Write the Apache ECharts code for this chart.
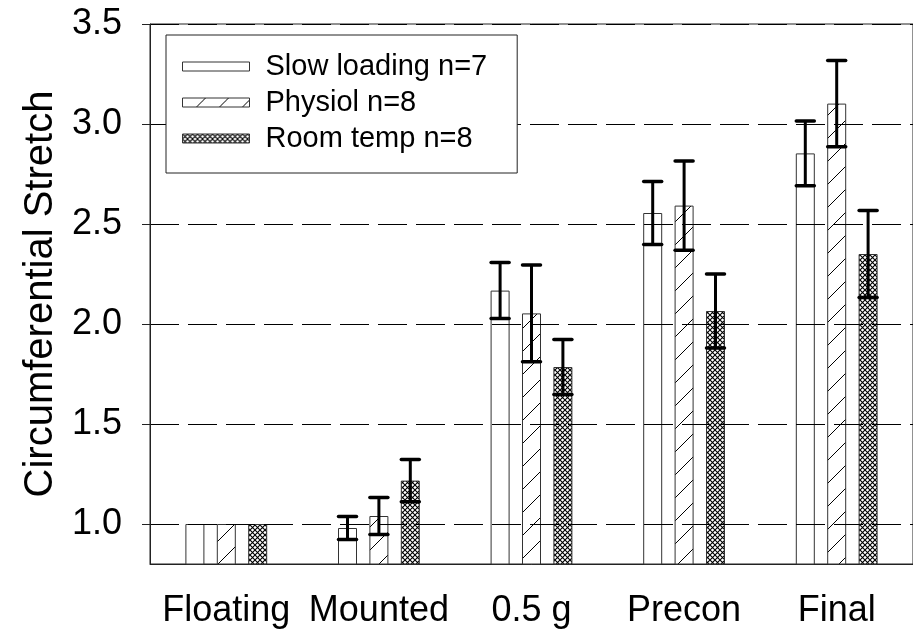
<!DOCTYPE html>
<html>
<head>
<meta charset="utf-8">
<script src="https://cdn.jsdelivr.net/npm/echarts@6/dist/echarts.min.js"></script>
<style>
  html, body { margin: 0; padding: 0; background: #fff; }
  #chart { width: 913px; height: 635px; }
</style>
</head>
<body>
<div id="chart"></div>
<script>
// Stages of the loading protocol
const categories = ['Floating', 'Mounted', '0.5 g', 'Precon', 'Final'];

// Group names shown in the legend
const seriesNames = ['Slow loading n=7', 'Physiol n=8', 'Room temp n=8'];

// Mean circumferential stretch and standard error for each group
const slowMean = [1.0, 0.98, 2.167, 2.555, 2.853];
const slowErr  = [0, 0.057, 0.14, 0.157, 0.162];
const physMean = [1.0, 1.04, 2.053, 2.592, 3.102];
const physErr  = [0, 0.093, 0.242, 0.223, 0.216];
const roomMean = [1.0, 1.217, 1.785, 2.065, 2.35];
const roomErr  = [0, 0.106, 0.137, 0.185, 0.218];

// Value axis tick labels
const yTickValues = [1.0, 1.5, 2.0, 2.5, 3.0, 3.5];

const FONT = '"Liberation Sans", Arial, sans-serif';
const BAR_W = 19;
const BAR_GAP = 12.4;

// Fill patterns
function hatchPattern() {
  const s = 23;
  const c = document.createElement('canvas');
  c.width = s; c.height = s;
  const g = c.getContext('2d');
  g.fillStyle = '#fff';
  g.fillRect(0, 0, s, s);
  g.strokeStyle = '#000';
  g.lineWidth = 1;
  g.beginPath();
  g.moveTo(-2, s + 2); g.lineTo(s + 2, -2);
  g.moveTo(-2, 2); g.lineTo(2, -2);
  g.moveTo(s - 2, s + 2); g.lineTo(s + 2, s - 2);
  g.stroke();
  return c;
}
function crossPattern() {
  const s = 5;
  const c = document.createElement('canvas');
  c.width = s; c.height = s;
  const g = c.getContext('2d');
  g.fillStyle = '#fff';
  g.fillRect(0, 0, s, s);
  g.strokeStyle = '#000';
  g.lineWidth = 1.1;
  g.beginPath();
  g.moveTo(0, 0); g.lineTo(s, s);
  g.moveTo(s, 0); g.lineTo(0, s);
  g.stroke();
  return c;
}

const fills = [
  '#ffffff',
  { image: hatchPattern(), repeat: 'repeat' },
  { image: crossPattern(), repeat: 'repeat' }
];
const means = [slowMean, physMean, roomMean];
const errs = [slowErr, physErr, roomErr];

const barSeries = seriesNames.map((name, i) => ({
  name: name,
  type: 'bar',
  data: means[i],
  barWidth: BAR_W,
  barGap: (BAR_GAP / BAR_W * 100) + '%',
  clip: true,
  z: 2,
  itemStyle: { color: fills[i], borderColor: '#333', borderWidth: 1 }
}));

const errorSeries = seriesNames.map((name, i) => ({
  type: 'custom',
  z: 5,
  silent: true,
  data: categories.map((c, k) => [k, means[i][k], errs[i][k]]),
  renderItem: function (params, api) {
    const err = api.value(2);
    if (!err) return null;
    const k = api.value(0);
    const m = api.value(1);
    const off = (i - 1) * (BAR_W + BAR_GAP);
    const hi = api.coord([k, m + err]);
    const lo = api.coord([k, m - err]);
    const x = hi[0] + off;
    const cap = 9;
    const stem = { stroke: '#000', lineWidth: 3 };
    const capStyle = { stroke: '#000', lineWidth: 3.5, lineCap: 'round' };
    return {
      type: 'group',
      children: [
        { type: 'line', shape: { x1: x, y1: hi[1], x2: x, y2: lo[1] }, style: stem },
        { type: 'line', shape: { x1: x - cap, y1: hi[1], x2: x + cap, y2: hi[1] }, style: capStyle },
        { type: 'line', shape: { x1: x - cap, y1: lo[1], x2: x + cap, y2: lo[1] }, style: capStyle }
      ]
    };
  }
}));

const chart = echarts.init(document.getElementById('chart'), null, { renderer: 'canvas' });
chart.setOption({
  animation: false,
  backgroundColor: '#fff',
  grid: {
    left: 150, top: 24, width: 770, height: 540,
    show: true, borderColor: '#222', borderWidth: 1, backgroundColor: 'transparent'
  },
  legend: {
    data: seriesNames,
    orient: 'vertical',
    left: 166, top: 35,
    itemWidth: 67, itemHeight: 9, itemGap: 7,
    padding: [17, 30, 20, 16],
    backgroundColor: '#fff',
    borderColor: '#222', borderWidth: 1,
    icon: 'rect',
    selectedMode: false,
    z: 10,
    itemStyle: { borderColor: '#333', borderWidth: 1 },
    textStyle: { fontSize: 29, fontFamily: FONT, color: '#000', padding: [0, 0, 0, 11] }
  },
  xAxis: {
    type: 'category',
    data: categories,
    axisLine: { lineStyle: { color: '#222', width: 1 } },
    axisTick: { alignWithLabel: true, length: 8, lineStyle: { color: '#222' } },
    axisLabel: { fontSize: 36, fontFamily: FONT, color: '#000', margin: 29, interval: 0 },
    splitLine: { show: false }
  },
  yAxis: {
    type: 'value',
    min: 0.8, max: 3.5,
    z: 3,
    name: 'Circumferential Stretch',
    nameLocation: 'middle',
    nameGap: 83,
    nameRotate: 90,
    nameTextStyle: { fontSize: 40, fontFamily: FONT, color: '#000' },
    axisLine: { show: true, lineStyle: { color: '#222', width: 1 } },
    axisTick: { show: true, length: 8, customValues: yTickValues, lineStyle: { color: '#222' } },
    axisLabel: {
      fontSize: 36, fontFamily: FONT, color: '#000', margin: 28,
      customValues: yTickValues,
      formatter: v => v.toFixed(1)
    },
    splitLine: { show: true, lineStyle: { color: '#000', width: 1, type: [29, 9] } }
  },
  series: barSeries.concat(errorSeries)
});
</script>
</body>
</html>
